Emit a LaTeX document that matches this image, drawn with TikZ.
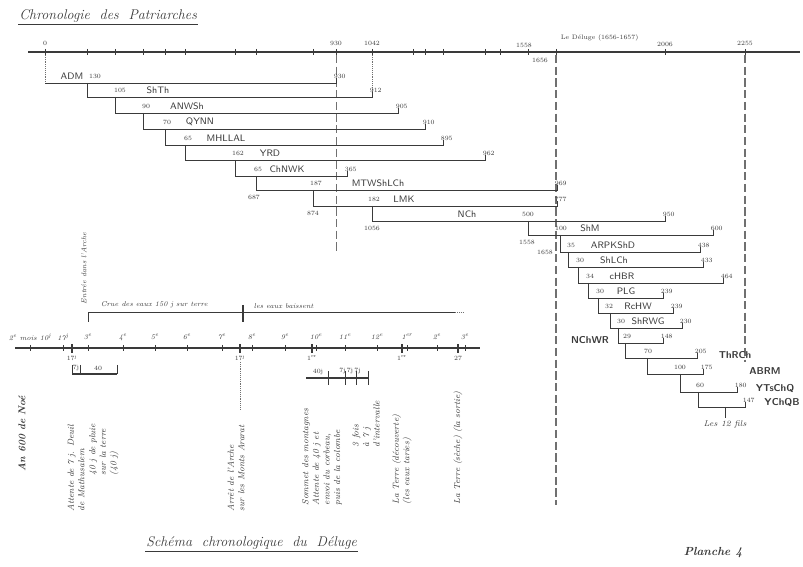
\documentclass[tikz,border=0pt]{standalone}
\usepackage{tikz}
\usetikzlibrary{positioning}
\definecolor{inkgray}{HTML}{3A3A3A}
\definecolor{guidegray}{HTML}{707070}
\tikzset{
  lifebar/.style={draw=inkgray,line width=0.7pt},
  axisline/.style={draw=inkgray,line width=0.9pt},
  thickbar/.style={draw=inkgray,line width=1.4pt},
  guideline/.style={draw=guidegray,line width=0.9pt,dash pattern=on 7pt off 3pt},
  dotline/.style={draw=guidegray,densely dotted,line width=0.6pt},
  yearlbl/.style={font=\fontsize{5.5}{6}\selectfont,text=inkgray,inner sep=0.5pt},
  namelbl/.style={font=\sffamily\fontsize{8}{9}\selectfont,text=inkgray,inner sep=0.5pt},
  bignamelbl/.style={font=\sffamily\bfseries\fontsize{8.5}{9}\selectfont,text=inkgray,inner sep=0.5pt},
  monthlbl/.style={font=\itshape\fontsize{6}{7}\selectfont,text=inkgray,inner sep=0.5pt},
  vnote/.style={rotate=90,anchor=west,align=left,font=\itshape\fontsize{7.5}{9}\selectfont,text=inkgray,inner sep=0.5pt},
  titlelbl/.style={font=\itshape\fontsize{12}{14}\selectfont,text=inkgray,inner sep=1pt},
}
\begin{document}
\begin{tikzpicture}[x=0.03cm,y=-0.03cm]
  \useasboundingbox (0,0) rectangle (803,567);
  % titles
  \node[titlelbl,anchor=west] (title1) at (18,16) {Chronologie\ \ des\ \ Patriarches};
  \draw[inkgray] (title1.south west) -- (title1.south east);
  \node[titlelbl,anchor=west] (title2) at (145,543) {Schéma\ \ chronologique\ \ du\ \ Déluge};
  \draw[inkgray] (title2.south west) -- (title2.south east);
  \node[titlelbl,font=\itshape\bfseries\fontsize{10}{12}\selectfont] (planche) at (713,553) {Planche 4};

  % top axis (years)
  \coordinate (axL) at (28,52);
  \coordinate (axR) at (800,52);
  \draw[axisline] (axL) -- (axR);
  \foreach \t in {45,87,115,143,165,185,235,256,313,336,372,413,425,443,485,500,528,556,665,745}
    \draw[inkgray] (\t,49) -- (\t,55);
  \node[yearlbl] (y0) at (45,43) {0};
  \node[yearlbl] (y930) at (336,43) {930};
  \node[yearlbl] (y1042) at (372,43) {1042};
  \node[yearlbl] (y1558) at (524,45) {1558};
  \node[yearlbl] (y1656) at (540,60) {1656};
  \node[yearlbl,anchor=west] (deluge) at (560,38) {Le Déluge (1656-1657)};
  \node[yearlbl] (y2006) at (665,44) {2006};
  \node[yearlbl] (y2255) at (745,43) {2255};

  % guides
  \coordinate (flTop) at (556,55);
  \coordinate (flBot) at (556,505);
  \draw[guideline] (flTop) -- (flBot);
  \draw[guideline] (745,55) -- (745,362);
  \draw[guideline,line width=0.6pt] (336,55) -- (336,252);
  \draw[dotline] (372,55) -- (372,94);
  \draw[dotline] (45,55) -- (45,83);

  % lives of the patriarchs
  \foreach \i/\y/\py/\a/\b/\nm/\st/\nx/\ny/\ag/\agx/\lf in {
    1/83/83/45/336/ADM/namelbl/72/76/130/95/930,
    2/97/83/87/372/ShTh/namelbl/158/90/105/120/912,
    3/113/97/115/398/ANWSh/namelbl/187/106/90/146/905,
    4/129/113/143/425/QYNN/namelbl/200/122/70/167/910,
    5/145/129/165/443/MHLLAL/namelbl/226/138/65/188/895,
    6/160/145/185/485/YRD/namelbl/270/153/162/238/962,
    7/176/160/235/347/ChNWK/namelbl/287/169/65/258/365,
    8/190/176/256/557/MTWShLCh/namelbl/378/183/187/316/969,
    9/206/190/313/557/LMK/namelbl/404/199/182/374/777,
    10/221/206/372/665/NCh/namelbl/467/214/500/528/950,
    11/235/221/528/713/ShM/namelbl/590/228/100/561/600,
    12/252/235/560/700/ARPKShD/namelbl/613/245/35/571/438,
    13/267/252/568/703/ShLCh/namelbl/614/260/30/580/433,
    14/283/267/578/723/cHBR/namelbl/622/276/34/590/464,
    15/298/283/588/663/PLG/namelbl/626/291/30/600/239,
    16/313/298/598/673/RcHW/namelbl/638/306/32/609/239,
    17/328/313/610/682/ShRWG/namelbl/648/321/30/621/230,
    18/343/328/618/663/NChWR/bignamelbl/590/340/29/627/148,
    19/358/343/625/697/ThRCh/bignamelbl/735/355/70/648/205,
    20/374/358/647/703/ABRM/bignamelbl/765/371/100/680/175,
    21/392/374/680/737/YTsChQ/bignamelbl/775/388/60/700/180,
    22/407/392/698/745/YChQB/bignamelbl/782/402//715/147}{
    \coordinate (p\i) at (\a,\py);
    \coordinate (s\i) at (\a,\y);
    \coordinate (e\i) at (\b,\y);
    \draw[lifebar] (p\i) -- (s\i) -- (e\i) -- ++(0,-5);
    \node[\st] (n\i) at (\nx,\ny) {\nm};
    \node[yearlbl] (a\i) at (\agx,\y-7) {\ag};
    \node[yearlbl,anchor=south west] (l\i) at (\b-3,\y-4) {\lf};
  }
  \node[yearlbl] (b687) at (254,197) {687};
  \node[yearlbl] (b874) at (313,213) {874};
  \node[yearlbl] (b1056) at (372,228) {1056};
  \node[yearlbl] (b1558) at (527,242) {1558};
  \node[yearlbl] (b1658) at (545,252) {1658};
  \coordinate (fils) at (725,418);
  \draw[lifebar] (e22 -| fils) -- (fils);
  \node[namelbl,font=\itshape\fontsize{7}{8}\selectfont,below=2pt of fils] (fils12) {Les 12 fils};

  % flood year axis
  \coordinate (flL) at (15,348);
  \coordinate (flR) at (480,348);
  \draw[inkgray,line width=1.3pt] (flL) -- (flR);
  \foreach \t in {30,63,88,123,155,187,222,252,285,316,345,377,407,437,465}
    \draw[inkgray] (\t,345) -- (\t,351);
  \foreach \t in {72,240,312,402,458}
    \draw[inkgray,line width=1pt] (\t,344) -- (\t,353);
  \node[monthlbl] (m0) at (30,337) {2\textsuperscript{e} mois 10\textsuperscript{j}};
  \foreach \x/\m in {63/17\textsuperscript{j},88/3\textsuperscript{e},123/4\textsuperscript{e},
      155/5\textsuperscript{e},187/6\textsuperscript{e},222/7\textsuperscript{e},252/8\textsuperscript{e},
      285/9\textsuperscript{e},316/10\textsuperscript{e},345/11\textsuperscript{e},377/12\textsuperscript{e},
      407/1\textsuperscript{er},437/2\textsuperscript{e},465/3\textsuperscript{e}}
    \node[monthlbl] at (\x,337) {\m};
  \foreach \x/\d in {72/17\textsuperscript{j},240/17\textsuperscript{j},312/1\textsuperscript{er},402/1\textsuperscript{er},458/27}
    \node[yearlbl] at (\x,358) {\d};

  % rising waters
  \coordinate (crL) at (88,312);
  \coordinate (crR) at (455,312);
  \draw[lifebar] (88,322) -- (crL) -- (crR);
  \draw[dotline] (crR) -- ++(9,0);
  \draw[thickbar] (243,305) -- (243,322);
  \node[monthlbl,anchor=south west] (crue) at (100,309) {Crue des eaux 150 j sur terre};
  \node[monthlbl,anchor=south west] (baisse) at (253,309) {les eaux baissent};
  \node[vnote,font=\itshape\fontsize{6}{7}\selectfont] (entree) at (84,305) {Entrée dans l'Arche};
  \node[vnote,font=\itshape\bfseries\fontsize{8.5}{9}\selectfont] (an600) at (22,472) {An 600 de Noé};

  % 7 days and 40 days
  \draw[thickbar] (72,374) -- (117,374);
  \foreach \t in {72,80,117}
    \draw[lifebar] (\t,365) -- (\t,374);
  \node[yearlbl] (sept) at (76,368) {7j};
  \node[yearlbl] (quar) at (98,368) {40};
  \node[vnote] (attente) at (76,512) {Attente de 7 j. Deuil\\de Mathusalem};
  \node[vnote] (pluie) at (104,476) {40 j de pluie\\sur la terre\\(40 j)};

  % ark resting
  \draw[dotline] (240,362) -- (240,410);
  \node[vnote] (arret) at (236,512) {Arrêt de l'Arche\\sur les Monts Ararat};

  % mountain tops, raven and dove
  \draw[thickbar] (306,378) -- (368,378);
  \foreach \t in {328,345,356,368}
    \draw[lifebar] (\t,371) -- (\t,385);
  \node[yearlbl] (q40) at (318,372) {40j};
  \node[yearlbl] (s7) at (350,371) {7j\,7j\,7j};
  \node[vnote] (sommet) at (322,506) {Sommet des montagnes\\Attente de 40 j et\\envoi du corbeau,\\puis de la colombe};
  \node[vnote] (colombe) at (366,448) {3 fois\\à 7 j\\d'intervalle};

  % the earth dries
  \node[vnote] (seche) at (402,505) {La Terre (découverte)\\(les eaux taries)};
  \node[vnote] (sortie) at (458,505) {La Terre (sèche) (la sortie)};
\end{tikzpicture}
\end{document}
